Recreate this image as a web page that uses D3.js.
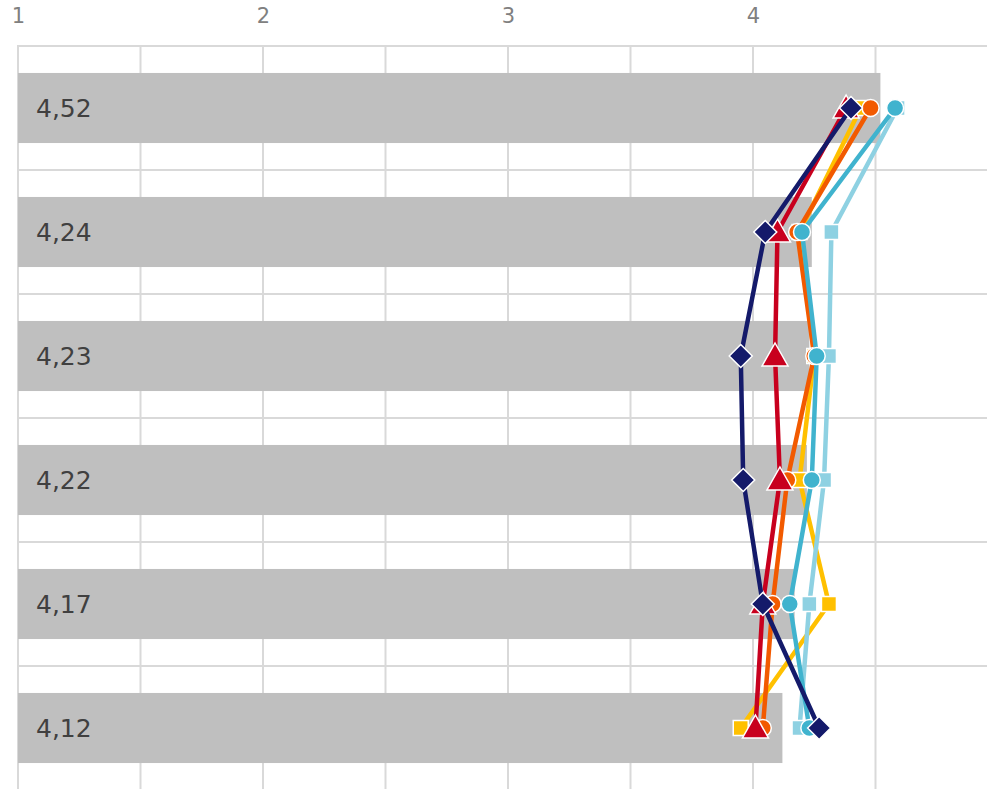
<!DOCTYPE html>
<html>
<head>
<meta charset="utf-8">
<script src="https://cdn.jsdelivr.net/npm/d3@7"></script>
<style>
  html, body { margin: 0; padding: 0; background: #fff; overflow: hidden; }
  svg { display: block; font-family: "DejaVu Sans", Verdana, sans-serif; }
</style>
</head>
<body>
<svg id="chart" width="987" height="789"></svg>
<script>
// ---- data ----
const categories = ["Item 1", "Item 2", "Item 3", "Item 4", "Item 5", "Item 6"];
const barValues = [4.52, 4.24, 4.23, 4.22, 4.17, 4.12];
const tickValues = [1, 2, 3, 4];

const seriesNames = ["S1", "S2", "S3", "S4", "S5", "S6"];
const seriesYellow   = [4.44, 4.19, 4.25, 4.19, 4.31, 3.95];
const seriesLightBlue= [4.59, 4.32, 4.31, 4.29, 4.23, 4.19];
const seriesOrange   = [4.48, 4.18, 4.25, 4.14, 4.08, 4.04];
const seriesTeal     = [4.58, 4.20, 4.26, 4.24, 4.15, 4.23];
const seriesRed      = [4.38, 4.10, 4.09, 4.11, 4.04, 4.01];
const seriesNavy     = [4.40, 4.05, 3.95, 3.96, 4.04, 4.27];

const series = [
  { name: seriesNames[0], values: seriesYellow,    color: "#FFC000", shape: "square" },
  { name: seriesNames[1], values: seriesLightBlue, color: "#8ED1E2", shape: "square" },
  { name: seriesNames[2], values: seriesOrange,    color: "#F25A00", shape: "circle" },
  { name: seriesNames[3], values: seriesTeal,      color: "#40B3CE", shape: "circle" },
  { name: seriesNames[4], values: seriesRed,       color: "#C8001E", shape: "triangle" },
  { name: seriesNames[5], values: seriesNavy,      color: "#141A6A", shape: "diamond" }
];

// ---- layout ----
const svg = d3.select("#chart");
const plot = { left: 18, right: 998, top: 46, bottom: 790 };

const x = d3.scaleLinear().domain([1, 5]).range([plot.left, plot.right]);
const y = d3.scaleBand().domain(categories).range([plot.top, plot.bottom])
  .paddingInner(0.435).paddingOuter(0.2175);
const yc = c => y(c) + y.bandwidth() / 2;

// vertical gridlines every 0.5
const vGrid = d3.range(1, 5.01, 0.5);
svg.append("g").selectAll("line").data(vGrid).join("line")
  .attr("x1", d => x(d)).attr("x2", d => x(d))
  .attr("y1", plot.top).attr("y2", plot.bottom)
  .attr("stroke", "#D9D9D9").attr("stroke-width", 2);

// horizontal gridlines at band boundaries
const hGrid = categories.map(c => y(c) - (y.step() - y.bandwidth()) / 2)
  .concat([plot.bottom]);
svg.append("g").selectAll("line").data(hGrid).join("line")
  .attr("x1", plot.left - 1).attr("x2", plot.right)
  .attr("y1", d => d).attr("y2", d => d)
  .attr("stroke", "#D9D9D9").attr("stroke-width", 2);

// top axis tick labels
const axis = d3.axisTop(x).tickValues(tickValues).tickSize(0).tickPadding(0)
  .tickFormat(d3.format("d"));
const axG = svg.append("g").attr("transform", `translate(0, 23)`).call(axis);
axG.select(".domain").remove();
axG.selectAll("text")
  .attr("font-size", 21).attr("fill", "#808080")
  .attr("font-family", "DejaVu Sans, Verdana, sans-serif")
  .attr("dy", 0);

// bars
svg.append("g").selectAll("rect").data(categories).join("rect")
  .attr("x", x(1))
  .attr("y", c => y(c))
  .attr("width", (c, i) => x(barValues[i]) - x(1))
  .attr("height", y.bandwidth())
  .attr("fill", "#BFBFBF");

// bar labels
const fmt = v => d3.format(".2f")(v).replace(".", ",");
svg.append("g").selectAll("text").data(categories).join("text")
  .attr("x", x(1) + 18)
  .attr("y", c => yc(c))
  .attr("dy", "0.36em")
  .attr("font-size", 25)
  .attr("fill", "#404040")
  .text((c, i) => fmt(barValues[i]));

// series lines and markers
const line = d3.line()
  .x(d => x(d.v))
  .y(d => yc(d.c));

function markerPath(shape) {
  switch (shape) {
    case "circle": return d3.symbol(d3.symbolCircle, Math.PI * 8.5 * 8.5)();
    case "square": return "M-7.5,-7.5H7.5V7.5H-7.5Z";
    case "diamond": return "M0,-11.5L11.5,0L0,11.5L-11.5,0Z";
    case "triangle": return "M0,-13L13,10L-13,10Z";
  }
}

series.forEach(s => {
  const pts = categories.map((c, i) => ({ c, v: s.values[i] }));
  const g = svg.append("g");
  g.append("path").datum(pts)
    .attr("d", line)
    .attr("fill", "none")
    .attr("stroke", s.color)
    .attr("stroke-width", 4.5)
    .attr("stroke-linejoin", "round");
  g.selectAll("path.m").data(pts).join("path")
    .attr("class", "m")
    .attr("transform", d => `translate(${x(d.v)},${yc(d.c)})`)
    .attr("d", markerPath(s.shape))
    .attr("fill", s.color)
    .attr("stroke", "#fff")
    .attr("stroke-width", 1.5);
});
</script>
</body>
</html>
